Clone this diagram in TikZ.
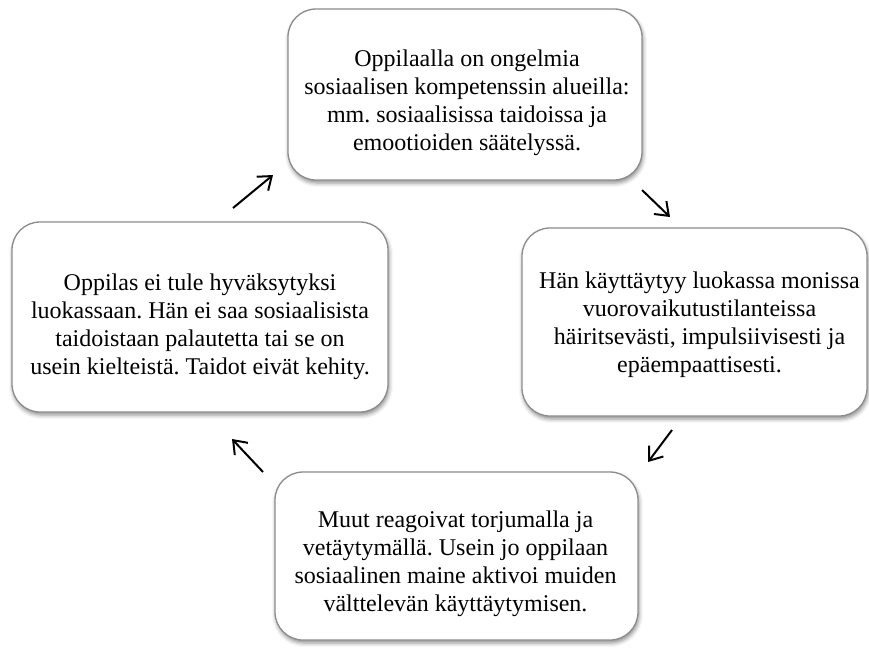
\documentclass[tikz,border=0pt]{standalone}
\usepackage{fontspec}
\setmainfont{Liberation Serif}
\usetikzlibrary{arrows.meta,shadows.blur,calc}
\frenchspacing
\begin{document}
\begin{tikzpicture}[x=1pt,y=-1pt,
  phase/.style={draw=black!45, line width=1.3pt, rounded corners=28pt,
    fill=white, inner sep=0pt,
    blur shadow={shadow xshift=1pt, shadow yshift=-3pt,
      shadow blur radius=4pt, shadow opacity=45}},
  phasetext/.style={align=center, inner sep=0pt,
    font=\fontsize{24}{28}\selectfont},
  flow/.style={line width=2pt, -{Straight Barb[length=12pt,width=18pt]}}
]
\useasboundingbox (0,0) rectangle (869,649);

% the four stages of the cycle
\node[phase, minimum width=354pt, minimum height=171pt] (top) at (465,94.5) {};
\node[phase, minimum width=345pt, minimum height=188pt] (right) at (694.5,322) {};
\node[phase, minimum width=363pt, minimum height=168pt] (bottom) at (456.5,556) {};
\node[phase, minimum width=376pt, minimum height=190pt] (left) at (200,317) {};

% their texts
\node[phasetext] (toptext) at ($(top.center)+(2,8)$)
  {Oppilaalla on ongelmia\\sosiaalisen kompetenssin alueilla:\\mm. sosiaalisissa taidoissa ja\\emootioiden säätelyssä.};
\node[phasetext] (righttext) at ($(right.center)+(5,3)$)
  {Hän käyttäytyy luokassa monissa\\vuorovaikutustilanteissa\\häiritsevästi, impulsiivisesti ja\\epäempaattisesti.};
\node[phasetext] (bottomtext) at ($(bottom.center)+(-1,8)$)
  {Muut reagoivat torjumalla ja\\vetäytymällä. Usein jo oppilaan\\sosiaalinen maine aktivoi muiden\\välttelevän käyttäytymisen.};
\node[phasetext] (lefttext) at ($(left.center)+(0,10)$)
  {Oppilas ei tule hyväksytyksi\\luokassaan. Hän ei saa sosiaalisista\\taidoistaan palautetta tai se on\\usein kielteistä. Taidot eivät kehity.};

% arrow end points between the stages
\coordinate (a1s) at (642,190); \coordinate (a1e) at (670,217);
\coordinate (a2s) at (672,430); \coordinate (a2e) at (648,462);
\coordinate (a3s) at (263,472); \coordinate (a3e) at (232,439);
\coordinate (a4s) at (233,208); \coordinate (a4e) at (273,175);

\draw[flow] (a1s) -- (a1e);
\draw[flow] (a2s) -- (a2e);
\draw[flow] (a3s) -- (a3e);
\draw[flow] (a4s) -- (a4e);
\end{tikzpicture}
\end{document}
